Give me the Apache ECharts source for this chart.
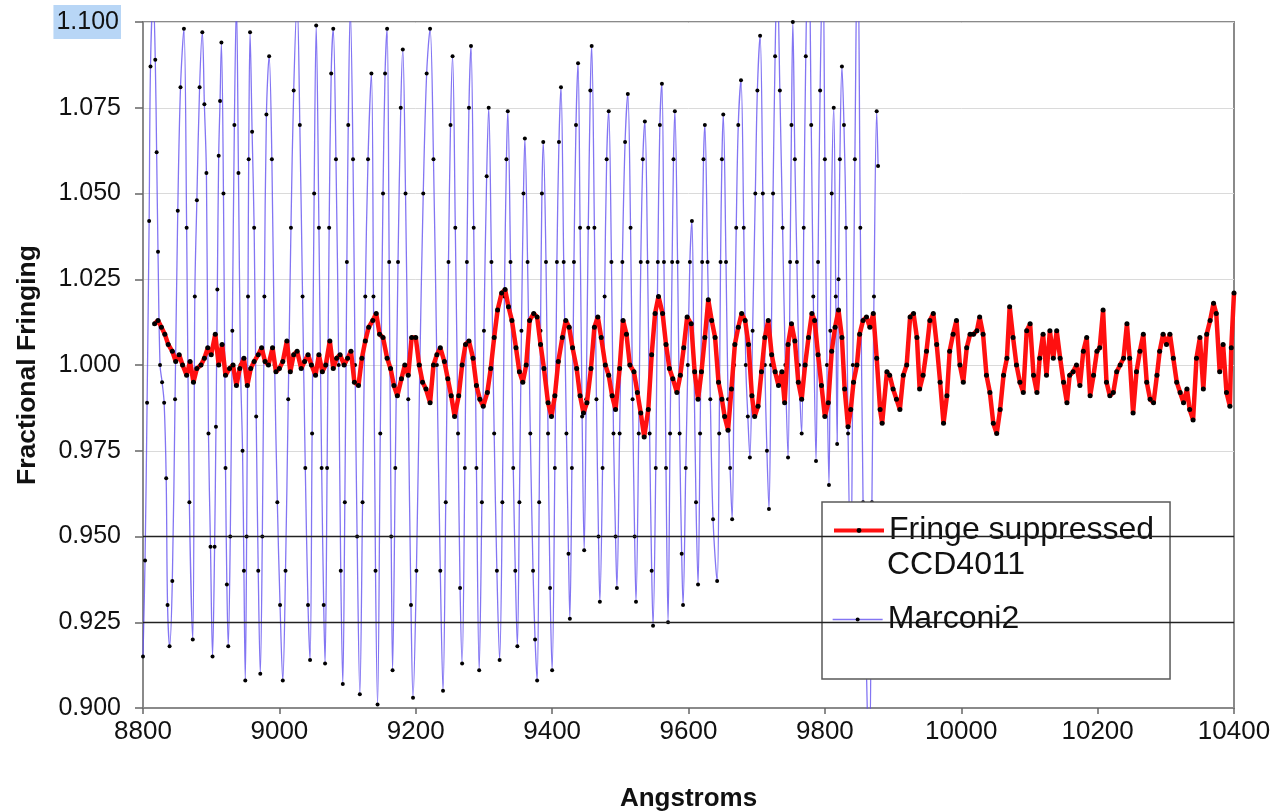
<!DOCTYPE html>
<html>
<head>
<meta charset="utf-8">
<script src="https://cdn.jsdelivr.net/npm/echarts/dist/echarts.min.js"></script>
<style>
html,body{margin:0;padding:0;background:#fff;}
#chart{width:1276px;height:811px;}
</style>
</head>
<body>
<div id="chart"></div>
<script>
// ---- data (wavelength in Angstroms, fractional fringing) ----
const fringeSuppressed = [
[8817,1.012],[8822,1.013],[8827,1.011],[8832,1.009],[8837,1.006],[8843,1.004],[8848,1.001],[8853,1.003],[8858,1.000],[8864,0.997],[8869,1.001],[8874,0.995],[8879,0.999],[8885,1.000],[8890,1.002],[8895,1.005],[8900,1.003],[8906,1.009],[8911,1.000],[8916,1.006],[8921,0.997],[8927,0.999],[8932,1.000],[8937,0.994],[8942,0.999],[8948,1.002],[8953,0.994],[8958,0.999],[8963,1.001],[8969,1.003],[8974,1.005],[8979,1.001],[8984,1.000],[8990,1.005],[8995,0.998],[9000,0.999],[9005,1.001],[9011,1.007],[9016,0.998],[9021,1.003],[9026,1.004],[9032,0.999],[9037,1.001],[9042,1.003],[9047,1.000],[9053,0.997],[9058,1.003],[9063,0.998],[9068,1.000],[9074,1.007],[9079,0.999],[9084,1.002],[9089,1.003],[9095,1.000],[9100,1.002],[9105,1.004],[9110,0.995],[9116,0.994],[9121,1.002],[9126,1.007],[9131,1.011],[9137,1.013],[9142,1.015],[9147,1.009],[9152,1.008],[9158,1.002],[9163,0.999],[9168,0.994],[9173,0.991],[9179,0.996],[9184,1.000],[9189,0.997],[9194,1.008],[9200,1.008],[9205,1.000],[9210,0.995],[9215,0.993],[9221,0.989],[9226,1.000],[9231,1.003],[9236,1.005],[9242,1.001],[9247,0.996],[9252,0.991],[9257,0.985],[9263,0.991],[9268,1.000],[9273,1.006],[9278,1.007],[9284,1.002],[9289,0.994],[9294,0.990],[9299,0.988],[9305,0.992],[9310,0.999],[9315,1.008],[9320,1.016],[9326,1.021],[9331,1.022],[9336,1.017],[9341,1.013],[9347,1.005],[9352,0.998],[9357,0.995],[9362,1.000],[9367,1.013],[9373,1.015],[9378,1.014],[9383,1.006],[9388,0.999],[9394,0.989],[9399,0.985],[9404,0.991],[9409,1.001],[9415,1.008],[9420,1.013],[9425,1.011],[9430,1.005],[9436,0.999],[9441,0.991],[9446,0.986],[9451,0.989],[9457,0.999],[9462,1.011],[9467,1.014],[9472,1.008],[9478,1.000],[9483,0.997],[9488,0.991],[9493,0.987],[9499,0.999],[9504,1.013],[9509,1.009],[9514,1.000],[9520,0.998],[9525,0.992],[9530,0.986],[9535,0.979],[9541,0.987],[9546,1.003],[9551,1.015],[9556,1.020],[9562,1.015],[9567,1.006],[9572,0.999],[9577,0.996],[9583,0.992],[9588,0.997],[9593,1.005],[9598,1.014],[9604,1.012],[9609,0.998],
[9614,0.990],[9619,0.998],[9624,1.008],[9629,1.019],[9634,1.013],[9639,1.008],[9644,0.995],[9649,0.990],[9653,0.985],[9658,0.981],[9663,0.993],[9668,1.006],[9673,1.011],[9678,1.015],[9683,1.013],[9688,1.006],[9693,0.991],[9697,0.985],[9702,0.988],[9707,0.998],[9712,1.008],[9717,1.013],[9722,1.003],[9727,0.998],[9732,0.994],[9737,0.998],[9741,0.989],[9746,1.006],[9751,1.012],[9756,1.007],[9761,0.995],[9766,0.990],[9771,1.000],[9776,1.008],[9781,1.015],[9785,1.013],[9790,1.003],[9795,0.994],[9800,0.985],[9805,0.989],[9810,1.004],[9815,1.011],[9820,1.016],[9825,1.008],[9829,0.993],[9834,0.982],
[9838,0.987],[9842,0.995],[9847,1.000],[9851,1.009],[9856,1.013],[9861,1.014],[9866,1.011],[9871,1.015],[9876,1.002],[9881,0.987],[9884,0.983],[9891,0.998],[9895,0.997],[9900,0.993],[9905,0.990],[9910,0.987],[9915,0.997],[9920,1.000],[9925,1.014],[9930,1.015],[9935,1.008],[9939,0.993],[9944,0.997],[9949,1.004],[9954,1.013],[9959,1.015],[9964,1.006],[9969,0.995],[9974,0.983],[9979,0.991],[9983,1.004],[9988,1.009],[9993,1.013],[9998,1.000],[10003,0.995],[10008,1.005],[10013,1.009],[10018,1.009],[10023,1.010],[10027,1.014],[10032,1.009],[10037,0.997],[10042,0.992],[10047,0.983],[10052,0.980],[10057,0.987],[10062,0.997],[10067,1.002],[10071,1.017],[10076,1.008],[10081,1.000],[10086,0.995],[10091,0.992],[10096,1.010],[10101,1.012],[10106,0.997],[10111,0.992],[10115,1.002],[10120,1.009],[10125,0.997],[10130,1.010],[10135,1.002],[10140,1.010],[10145,1.002],[10150,0.995],[10155,0.989],[10159,0.997],[10164,0.998],[10169,1.000],[10174,0.994],[10179,1.004],[10184,1.008],[10189,0.991],[10194,0.997],[10199,1.004],[10203,1.005],[10208,1.016],[10213,0.995],[10218,0.991],[10223,0.992],[10228,0.998],[10233,1.000],[10238,1.002],[10243,1.012],[10247,1.002],[10252,0.986],[10257,0.998],[10262,1.004],[10267,1.009],[10272,0.995],[10277,0.990],[10282,0.989],[10287,0.997],[10291,1.004],[10296,1.009],[10301,1.006],[10306,1.009],[10311,1.002],[10316,0.995],[10321,0.992],[10326,0.989],[10331,0.993],[10335,0.987],[10340,0.984],[10345,1.002],[10350,1.008],[10355,0.993],[10360,1.009],[10365,1.013],[10370,1.018],[10374,1.015],[10379,0.998],[10384,1.006],[10389,0.992],[10394,0.988],[10396,1.005],[10400,1.021]
];

const marconi2 = [
[8800,0.915],[8803,0.943],[8806,0.989],[8809,1.042],[8811,1.087],[8815,1.108],[8818,1.089],[8820,1.062],[8822,1.033],[8825,1.000],[8828,0.995],[8831,0.989],[8834,0.967],[8836,0.930],[8839,0.918],
[8843,0.937],[8847,0.990],[8851,1.045],[8855,1.081],[8860,1.098],[8864,1.040],[8868,0.960],[8873,0.920],
[8876,1.020],[8879,1.048],[8883,1.081],[8887,1.097],[8890,1.076],[8893,1.056],[8896,0.980],[8899,0.947],[8902,0.915],
[8905,0.947],[8907,0.982],[8909,1.022],[8911,1.061],[8913,1.077],[8915,1.094],[8918,1.050],[8921,0.970],[8923,0.936],[8925,0.918],
[8928,0.950],[8931,1.010],[8934,1.070],[8937,1.106],[8940,1.056],[8943,1.000],[8946,0.975],[8948,0.940],[8950,0.908],
[8952,0.950],[8954,1.020],[8955,1.060],[8957,1.097],[8960,1.068],[8963,1.040],[8966,0.985],[8969,0.940],[8972,0.910],
[8975,0.950],[8978,1.020],[8981,1.073],[8985,1.090],[8989,1.060],[8993,1.000],[8997,0.960],[9001,0.930],[9005,0.908],
[9009,0.940],[9013,0.990],[9017,1.040],[9021,1.080],[9026,1.106],[9030,1.070],[9034,1.020],[9038,0.970],[9042,0.930],[9045,0.914],
[9048,0.980],[9051,1.050],[9054,1.099],[9058,1.040],[9062,0.970],[9065,0.930],[9067,0.913],
[9070,0.970],[9073,1.040],[9076,1.085],[9079,1.098],[9083,1.060],[9087,1.000],[9090,0.940],[9093,0.907],
[9096,0.960],[9099,1.030],[9101,1.070],[9104,1.104],[9108,1.060],[9111,1.000],[9114,0.950],[9118,0.904],
[9122,0.960],[9126,1.020],[9130,1.060],[9135,1.085],[9138,1.020],[9141,0.940],[9144,0.901],
[9148,0.980],[9152,1.050],[9155,1.085],[9158,1.098],[9161,1.030],[9164,0.950],[9166,0.911],
[9170,0.970],[9174,1.030],[9178,1.075],[9181,1.092],[9185,1.050],[9189,0.990],[9193,0.930],[9196,0.903],
[9201,0.940],[9206,1.000],[9211,1.050],[9216,1.085],[9221,1.098],[9226,1.060],[9231,1.000],[9236,0.940],[9240,0.905],
[9244,0.960],[9248,1.030],[9251,1.070],[9254,1.090],[9258,1.040],[9262,0.980],[9265,0.935],[9268,0.913],
[9272,0.970],[9275,1.030],[9278,1.075],[9281,1.093],[9285,1.040],[9289,0.970],[9293,0.911],
[9297,0.960],[9300,1.010],[9304,1.055],[9307,1.075],[9311,1.030],[9315,0.980],[9319,0.940],[9323,0.914],
[9327,0.960],[9330,1.020],[9333,1.060],[9335,1.074],[9339,1.030],[9343,0.970],[9346,0.940],[9349,0.918],
[9352,0.960],[9355,1.010],[9358,1.050],[9360,1.066],[9364,1.030],[9368,0.980],[9372,0.940],[9375,0.920],[9378,0.908],
[9381,0.960],[9383,1.010],[9385,1.050],[9387,1.065],[9391,1.030],[9394,0.980],[9397,0.935],[9400,0.911],
[9404,0.970],[9407,1.030],[9410,1.065],[9413,1.081],[9417,1.030],[9421,0.980],[9424,0.945],[9426,0.926],
[9429,0.970],[9432,1.030],[9435,1.070],[9438,1.088],[9441,1.040],[9444,0.985],[9447,0.946],
[9450,0.990],[9453,1.040],[9456,1.080],[9458,1.093],[9462,1.040],[9465,0.990],[9468,0.950],[9470,0.931],
[9474,0.970],[9477,1.020],[9480,1.060],[9483,1.074],[9487,1.030],[9490,0.980],[9493,0.950],[9495,0.935],
[9499,0.980],[9503,1.030],[9507,1.065],[9511,1.079],[9515,1.040],[9518,0.990],[9521,0.950],[9523,0.931],
[9527,0.980],[9530,1.030],[9533,1.060],[9536,1.071],[9540,1.030],[9543,0.980],[9546,0.940],[9548,0.924],
[9552,0.970],[9555,1.030],[9558,1.070],[9561,1.082],[9564,1.030],[9567,0.970],[9570,0.925],
[9573,0.980],[9576,1.030],[9578,1.060],[9580,1.074],[9584,1.030],[9587,0.980],[9590,0.945],[9592,0.930],
[9596,0.970],[9599,1.000],[9602,1.030],[9605,1.042],[9608,1.000],[9611,0.960],[9614,0.936],
[9617,0.980],[9620,1.030],[9622,1.060],[9624,1.070],[9628,1.030],[9632,0.990],[9636,0.955],[9642,0.937],
[9645,0.980],[9647,1.030],[9649,1.060],[9651,1.073],[9655,1.030],[9658,0.990],[9661,0.970],[9664,0.955],
[9667,1.000],[9670,1.040],[9673,1.070],[9677,1.083],[9681,1.040],[9684,1.000],[9687,0.985],[9690,0.973],
[9694,1.010],[9698,1.050],[9701,1.080],[9705,1.096],[9709,1.050],[9712,1.000],[9715,0.975],[9718,0.958],
[9721,1.000],[9724,1.050],[9727,1.090],[9730,1.115],[9734,1.080],[9738,1.040],[9742,1.000],[9746,0.973],
[9749,1.030],[9751,1.070],[9753,1.100],[9756,1.060],[9759,1.030],[9762,1.000],[9766,0.980],
[9769,1.040],[9772,1.090],[9776,1.130],[9780,1.070],[9783,1.020],[9787,0.972],
[9790,1.030],[9793,1.080],[9797,1.120],[9800,1.060],[9803,1.000],[9806,0.965],
[9808,1.010],[9810,1.050],[9813,1.075],[9816,1.020],[9818,0.977],
[9820,1.025],[9822,1.060],[9825,1.087],[9828,1.070],[9831,1.040],[9834,0.980],[9838,0.940],
[9841,1.000],[9844,1.060],[9848,1.130],[9852,1.040],[9856,0.960],[9860,0.920],[9865,0.880],
[9869,0.960],[9872,1.020],[9876,1.074],[9878,1.058]
];

const xRange = [8800, 10400, 200];       // min, max, step
const yRange = [0.900, 1.100, 0.025];    // min, max, step
const darkGridValues = [0.950, 0.925];
const seriesNames = ['Fringe suppressed CCD4011', 'Marconi2'];
const legendLines = ['Fringe suppressed', 'CCD4011'];

// ---- chart ----
const chart = echarts.init(document.getElementById('chart'), null, {renderer: 'canvas'});
const FONT = '"Liberation Sans", Arial, Helvetica, sans-serif';
const RED = '#ff1010';
const PURPLE = 'rgba(96,78,240,0.78)';

chart.setOption({
  animation: false,
  backgroundColor: '#ffffff',
  grid: {
    left: 143, right: 42, top: 22, bottom: 103,
    containLabel: false, outerBoundsMode: 'none',
    show: true, borderColor: '#8a8a8a', borderWidth: 2, backgroundColor: 'transparent'
  },
  xAxis: {
    type: 'value',
    min: xRange[0], max: xRange[1], interval: xRange[2],
    name: 'Angstroms', nameLocation: 'middle', nameGap: 78,
    nameTextStyle: {fontFamily: FONT, fontSize: 26, fontWeight: 'bold', color: '#111'},
    axisLine: {show: true, onZero: false, lineStyle: {color: '#8a8a8a', width: 2}},
    axisTick: {show: true, inside: false, length: 6, lineStyle: {color: '#666', width: 1.5}},
    axisLabel: {
      fontFamily: FONT, fontSize: 26, color: '#111', margin: 11,
      formatter: function (v) { return String(v); }
    },
    splitLine: {show: false}
  },
  yAxis: {
    type: 'value',
    min: yRange[0], max: yRange[1], interval: yRange[2],
    name: 'Fractional Fringing', nameLocation: 'middle', nameGap: 102, nameRotate: 90,
    nameTextStyle: {fontFamily: FONT, fontSize: 26.5, fontWeight: 'bold', color: '#111'},
    axisLine: {show: true, lineStyle: {color: '#8a8a8a', width: 2}},
    axisTick: {show: true, inside: false, length: 8, lineStyle: {color: '#666', width: 1.5}},
    axisLabel: {
      fontFamily: FONT, fontSize: 25, color: '#111', margin: 22,
      formatter: function (v) {
        const s = v.toFixed(3);
        return v > yRange[1] - 1e-6 ? '{hl|' + s + '}' : s;
      },
      rich: {
        hl: {backgroundColor: '#b8d6f6', padding: [5, 2, 4, 3], fontFamily: FONT, fontSize: 25, color: '#111'}
      }
    },
    splitLine: {show: true, lineStyle: {color: '#dadada', width: 1}}
  },
  legend: [
    {
      orient: 'vertical', left: 822, top: 502,
      data: [seriesNames[0]],
      formatter: function () { return legendLines[0]; },
      backgroundColor: '#ffffff', borderColor: '#5a5a5a', borderWidth: 1.5, borderRadius: 0,
      padding: [10, 16, 130, 10],
      itemWidth: 50, itemHeight: 6,
      lineStyle: {color: RED, width: 4},
      itemStyle: {color: '#000000'},
      textStyle: {fontFamily: FONT, fontSize: 32, color: '#111', lineHeight: 37},
      selectedMode: false, z: 4
    },
    {
      orient: 'vertical', left: 832, top: 601,
      data: [seriesNames[1]],
      backgroundColor: 'transparent', borderWidth: 0, padding: 0,
      itemWidth: 50, itemHeight: 5,
      lineStyle: {color: PURPLE, width: 1.3},
      itemStyle: {color: '#000000'},
      textStyle: {fontFamily: FONT, fontSize: 32, color: '#111', lineHeight: 37},
      selectedMode: false, z: 6
    }
  ],
  graphic: [{
    type: 'text', z: 10, left: 887, top: 549,
    style: {text: legendLines[1], font: '32px ' + FONT, fill: '#111'}
  }],
  series: [
    {
      name: seriesNames[1],
      type: 'line',
      data: marconi2,
      smooth: 0.35,
      z: 2,
      symbol: 'circle', symbolSize: 4,
      itemStyle: {color: '#000000'},
      lineStyle: {color: PURPLE, width: 1.3},
      emphasis: {disabled: true}
    },
    {
      name: seriesNames[0],
      type: 'line',
      data: fringeSuppressed,
      smooth: false,
      z: 3,
      symbol: 'circle', symbolSize: 5,
      itemStyle: {color: '#000000'},
      lineStyle: {color: RED, width: 4.5},
      emphasis: {disabled: true},
      markLine: {
        silent: true, precision: 3, symbol: ['none', 'none'], label: {show: false},
        lineStyle: {color: '#222', width: 1.3, type: 'solid'},
        data: darkGridValues.map(function (v) { return {yAxis: v}; })
      }
    }
  ]
});
</script>
</body>
</html>
